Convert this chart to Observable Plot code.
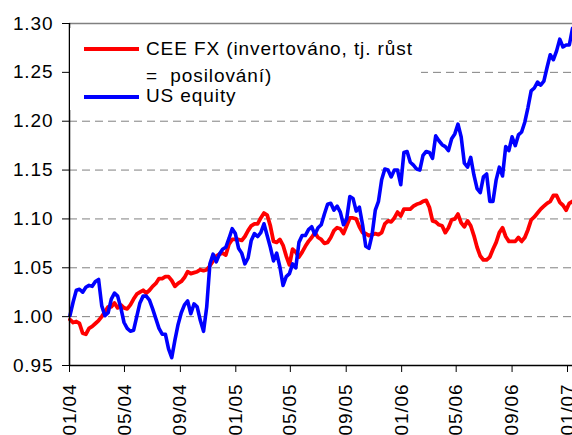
<!DOCTYPE html>
<html>
<head>
<meta charset="utf-8">
<script src="https://cdn.jsdelivr.net/npm/d3@7"></script>
<script src="https://cdn.jsdelivr.net/npm/@observablehq/plot@0.6"></script>
<style>
  html, body { margin: 0; padding: 0; background: #fff; }
  #wrap { position: relative; width: 572px; height: 435px; overflow: hidden; font-family: "Liberation Sans", Arial, sans-serif; }
  #legend { position: absolute; left: 70px; top: 28px; width: 351px; height: 82px; background: #fff; }
  .sw { position: absolute; height: 4px; width: 55px; }
  .lt { position: absolute; font-size: 19px; line-height: 19px; letter-spacing: 0.9px; white-space: pre; color: #000; }
</style>
</head>
<body>
<div id="wrap"></div>
<script>
// Weekly series, first observation 2 Jan 2004
const startDate = "2004-01-02";
const seriesNames = ["CEE FX (invertováno, tj. růst\n=  posilování)", "US equity"];
const ceeFx = [
  0.997, 0.994, 0.995, 0.993, 0.983, 0.982, 0.988, 0.990, 0.993, 0.996,
  1.000, 1.005, 1.010, 1.010, 1.014, 1.009, 1.012, 1.009, 1.008, 1.012,
  1.018, 1.023, 1.025, 1.027, 1.024, 1.027, 1.031, 1.034, 1.039, 1.039,
  1.041, 1.041, 1.037, 1.031, 1.034, 1.036, 1.040, 1.046, 1.044, 1.045,
  1.046, 1.048, 1.047, 1.048, 1.052, 1.057, 1.062, 1.064, 1.065, 1.063,
  1.074, 1.079, 1.079, 1.079, 1.078, 1.082, 1.088, 1.093, 1.095, 1.095,
  1.101, 1.106, 1.104, 1.093, 1.077, 1.076, 1.079, 1.073, 1.062, 1.053,
  1.069, 1.066, 1.061, 1.066, 1.072, 1.077, 1.081, 1.086, 1.081, 1.079,
  1.075, 1.076, 1.081, 1.088, 1.091, 1.090, 1.085, 1.093, 1.101, 1.101,
  1.100, 1.092, 1.086, 1.085, 1.083, 1.084, 1.085, 1.084, 1.086, 1.095,
  1.098, 1.097, 1.101, 1.107, 1.103, 1.110, 1.110, 1.110, 1.113, 1.115,
  1.116, 1.118, 1.119, 1.112, 1.098, 1.097, 1.094, 1.093, 1.086, 1.091,
  1.099, 1.100, 1.105, 1.096, 1.092, 1.098, 1.093, 1.083, 1.071, 1.062,
  1.058, 1.058, 1.061, 1.069, 1.076, 1.086, 1.091, 1.082, 1.077, 1.077,
  1.077, 1.081, 1.077, 1.081, 1.089, 1.099, 1.102, 1.106, 1.110, 1.113,
  1.116, 1.118, 1.124, 1.124, 1.117, 1.114, 1.109, 1.116, 1.118
];
const usEquity = [
  1.001, 1.015, 1.027, 1.028, 1.025, 1.030, 1.032, 1.031, 1.036, 1.038,
  1.011, 1.001, 1.004, 1.018, 1.024, 1.021, 1.009, 0.994, 0.988, 0.985,
  0.986, 1.000, 1.014, 1.021, 1.021, 1.017, 1.008, 0.998, 0.988, 0.982,
  0.982, 0.967, 0.958, 0.976, 0.992, 1.004, 1.012, 1.016, 1.003, 1.013,
  1.010, 0.996, 0.985, 1.010, 1.054, 1.064, 1.056, 1.064, 1.069, 1.071,
  1.080, 1.090, 1.085, 1.070, 1.065, 1.054, 1.060, 1.078, 1.085, 1.082,
  1.086, 1.095, 1.083, 1.071, 1.057, 1.065, 1.051, 1.032, 1.041, 1.044,
  1.054, 1.050, 1.076, 1.083, 1.083, 1.089, 1.092, 1.084, 1.091, 1.094,
  1.105, 1.115, 1.116, 1.109, 1.113, 1.107, 1.094, 1.100, 1.123, 1.121,
  1.108, 1.112, 1.094, 1.072, 1.070, 1.084, 1.109, 1.118, 1.140, 1.151,
  1.150, 1.143, 1.150, 1.150, 1.135, 1.168, 1.169, 1.158, 1.155, 1.151,
  1.150, 1.165, 1.169, 1.168, 1.162, 1.185, 1.180, 1.176, 1.174, 1.170,
  1.182, 1.187, 1.197, 1.184, 1.157, 1.153, 1.163, 1.145, 1.131, 1.127,
  1.143, 1.146, 1.118, 1.118, 1.140, 1.153, 1.144, 1.174, 1.170, 1.184,
  1.175, 1.186, 1.189, 1.199, 1.214, 1.231, 1.234, 1.240, 1.237, 1.241,
  1.255, 1.268, 1.263, 1.272, 1.284, 1.276, 1.278, 1.278, 1.295
];
const xTickLabels = ["01/04", "05/04", "09/04", "01/05", "05/05", "09/05", "01/06", "05/06", "09/06", "01/07"];
const yTicks = [0.95, 1.00, 1.05, 1.10, 1.15, 1.20, 1.25, 1.30];
const gridValues = [1.00, 1.05, 1.10, 1.15, 1.20, 1.25];
const xDomain = ["2004-01-01", "2007-01-12"];
const colors = ["#ff0000", "#0000ff"];

const parseDay = d3.utcParse("%Y-%m-%d");
const parseTick = d3.utcParse("%m/%y");
const t0 = parseDay(startDate);
const toDate = i => d3.utcDay.offset(t0, 7 * i);
const rows = [];
ceeFx.forEach((v, i) => rows.push({date: toDate(i), value: v, series: "cee"}));
usEquity.forEach((v, i) => rows.push({date: toDate(i), value: v, series: "us"}));
const xTicks = xTickLabels.map(parseTick);
const fmtTick = d3.utcFormat("%m/%y");

const chart = Plot.plot({
  width: 572,
  height: 435,
  marginLeft: 69,
  marginRight: 0,
  marginTop: 23,
  marginBottom: 70,
  style: {fontFamily: "'Liberation Sans', Arial, sans-serif", fontSize: "19px", letterSpacing: "0.9px", color: "#000", background: "#fff", overflow: "visible"},
  x: {type: "utc", domain: xDomain.map(parseDay)},
  y: {domain: [0.95, 1.30]},
  marks: [
    Plot.ruleY(gridValues, {stroke: "#808080", strokeWidth: 1, strokeDasharray: "8,5"}),
    Plot.ruleY([yTicks[yTicks.length - 1]], {stroke: "#808080", strokeWidth: 1.5}),
    Plot.line(rows.filter(d => d.series === "cee"), {x: "date", y: "value", stroke: colors[0], strokeWidth: 3.8, strokeLinejoin: "round"}),
    Plot.line(rows.filter(d => d.series === "us"), {x: "date", y: "value", stroke: colors[1], strokeWidth: 3.6, strokeLinejoin: "round"}),
    Plot.ruleX([parseDay(xDomain[0])], {stroke: "#000", strokeWidth: 1.5}),
    Plot.ruleY([yTicks[0]], {stroke: "#000", strokeWidth: 1.5}),
    Plot.axisY({ticks: yTicks, tickFormat: d3.format(".2f"), tickSize: 7, tickPadding: 9, label: null, fontSize: 19}),
    Plot.axisX({ticks: xTicks, tickFormat: fmtTick, tickSize: 7, tickPadding: 11, tickRotate: -90, label: null, fontSize: 19})
  ]
});

const wrap = document.getElementById("wrap");
wrap.appendChild(chart);

// Legend overlay inside the plot frame
const legend = document.createElement("div");
legend.id = "legend";
const lines = seriesNames[0].split("\n");
legend.innerHTML = `
  <div class="sw" style="left:14px; top:19px; background:${colors[0]}"></div>
  <div class="lt" style="left:76px; top:11px">${lines[0]}</div>
  <div class="lt" style="left:76px; top:38px">${lines[1]}</div>
  <div class="sw" style="left:14px; top:67px; background:${colors[1]}"></div>
  <div class="lt" style="left:76px; top:58px">${seriesNames[1]}</div>`;
wrap.appendChild(legend);
</script>
</body>
</html>
